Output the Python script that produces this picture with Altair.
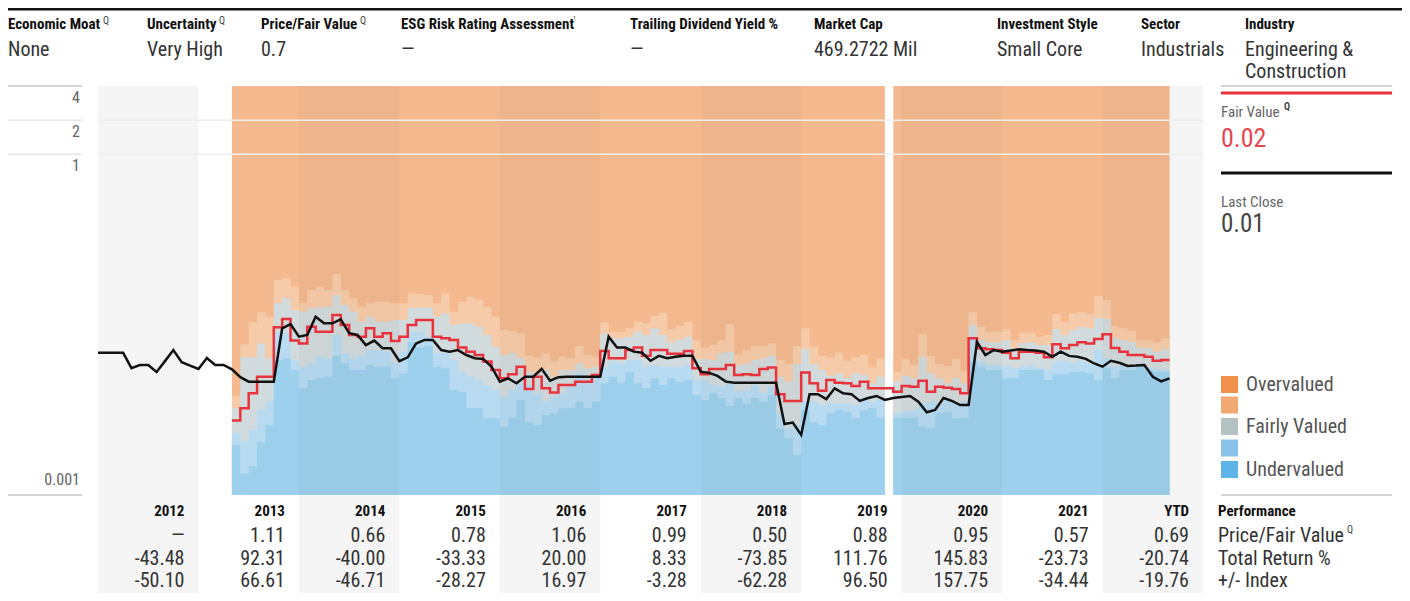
import altair as alt
import pandas as pd

# ---------------- data ----------------
HEADER_LABELS = ["Economic Moat", "Uncertainty", "Price/Fair Value", "ESG Risk Rating Assessment",
                 "Trailing Dividend Yield %", "Market Cap", "Investment Style", "Sector", "Industry"]
HEADER_SUPS = ["Q", "Q", "Q", "1", "", "", "", "", ""]
HEADER_VALUES = ["None", "Very High", "0.7", "\u2014", "\u2014", "469.2722 Mil", "Small Core",
                 "Industrials", "Engineering &"]
HEADER_VALUES_2 = ["", "", "", "", "", "", "", "", "Construction"]

# monthly last price, Jan 2012 .. Sep 2022
PRICE = [0.0179, 0.0179, 0.0179, 0.0179, 0.0131, 0.01396, 0.01396, 0.0121, 0.0151, 0.0189,
         0.0148, 0.0138, 0.0129, 0.0161, 0.01396, 0.01396, 0.0128, 0.0109, 0.00996, 0.00996,
         0.00996, 0.00996, 0.0294, 0.0320, 0.0248, 0.0257, 0.0372, 0.0325, 0.0325, 0.0353,
         0.0266, 0.0257, 0.0209, 0.0229, 0.0196, 0.0196, 0.0151, 0.0163, 0.0216, 0.0232,
         0.0232, 0.0189, 0.0183, 0.0189, 0.0171, 0.0160, 0.0158, 0.0135, 0.00996, 0.01066,
         0.00964, 0.0110, 0.0110, 0.0129, 0.01015, 0.0109, 0.0110, 0.0110, 0.0110, 0.0110,
         0.0110, 0.0248, 0.0199, 0.0199, 0.0183, 0.0179, 0.0152, 0.0168, 0.0160, 0.0165,
         0.0168, 0.0168, 0.0122, 0.0119, 0.0112, 0.00996, 0.00976, 0.00976, 0.00976, 0.00976,
         0.00976, 0.00976, 0.00422, 0.00435, 0.00338, 0.00773, 0.00773, 0.00700, 0.00870, 0.00786,
         0.00773, 0.00674, 0.00714, 0.00745, 0.00687, 0.00714, 0.00728, 0.00745, 0.00664, 0.00536,
         0.00561, 0.00714, 0.00674, 0.00620, 0.00620, 0.0222, 0.0171, 0.0189, 0.0183, 0.0187,
         0.0192, 0.0189, 0.0187, 0.0183, 0.0165, 0.0183, 0.0168, 0.0165, 0.0158, 0.0144,
         0.0135, 0.0152, 0.0146, 0.0137, 0.0138, 0.01396, 0.0110, 0.0100, 0.01066]

# valuation band boundaries, May 2013 .. Aug 2022 (Nov 2019 missing)
B1 = [0.00276, 0.00155, 0.00180, 0.00295, 0.00414, 0.01545, 0.0160, 0.0126, 0.00870, 0.0103,
      0.01066, 0.0110, 0.0168, 0.0144, 0.0126, 0.0126, 0.01396, 0.0135, 0.0135, 0.01066,
      0.0118, 0.0222, 0.0199, 0.0205, 0.0135, 0.0131, 0.00841, 0.00813, 0.00585, 0.00585,
      0.00474, 0.00474, 0.00399, 0.00478, 0.00687, 0.00438, 0.00414, 0.00507, 0.00524, 0.00580,
      0.00585, 0.00664, 0.00585, 0.00664, 0.00964, 0.0110, 0.00964, 0.0122, 0.00964, 0.00870,
      0.01066, 0.00930, 0.01066, 0.00996, 0.0103, 0.00760, 0.00687, 0.00786, 0.00714, 0.00608,
      0.00714, 0.00639, 0.00714, 0.00664, 0.00760, 0.00386, 0.00316, 0.00225, 0.00561, 0.00438,
      0.00414, 0.00524, 0.00561, 0.00541, 0.00478, 0.00561, 0.00580, 0.00478, None, 0.00478,
      0.00474, 0.00478, 0.00399, 0.00386, 0.00524, 0.00541, 0.00474, 0.00478, 0.0150, 0.0135,
      0.0126, 0.0126, 0.01066, 0.01066, 0.0126, 0.0126, 0.0126, 0.0103, 0.0116, 0.0116,
      0.0122, 0.0122, 0.0118, 0.0103, 0.0131, 0.01066, 0.0126, 0.0126, 0.0135, 0.0126,
      0.0122, 0.0122]
B2 = [0.00350, 0.00295, 0.00374, 0.00561, 0.00664, 0.0274, 0.0266, 0.01545, 0.0135, 0.0144,
      0.0165, 0.0160, 0.0257, 0.0177, 0.0160, 0.0171, 0.0189, 0.0189, 0.0183, 0.0144,
      0.0183, 0.0274, 0.0274, 0.0248, 0.0177, 0.0177, 0.01545, 0.0122, 0.0110, 0.0103,
      0.00930, 0.00841, 0.00733, 0.00841, 0.00964, 0.00930, 0.00786, 0.00664, 0.00733, 0.00786,
      0.00898, 0.0118, 0.0103, 0.0110, 0.0135, 0.0150, 0.0144, 0.01545, 0.01545, 0.0135,
      0.01396, 0.0135, 0.0135, 0.0135, 0.01396, 0.0103, 0.0103, 0.00930, 0.00898, 0.00964,
      0.00813, 0.00841, 0.00930, 0.00786, 0.00898, 0.00524, 0.00386, 0.00414, 0.00664, 0.00664,
      0.00620, 0.00639, 0.00639, 0.00639, 0.00620, 0.00714, 0.00664, 0.00687, None, 0.00524,
      0.00541, 0.00561, 0.00639, 0.00664, 0.00639, 0.00687, 0.00639, 0.00664, 0.0240, 0.0150,
      0.01396, 0.01396, 0.0135, 0.0131, 0.0135, 0.01396, 0.0131, 0.0126, 0.0150, 0.0150,
      0.0144, 0.0150, 0.0144, 0.0189, 0.0160, 0.0135, 0.01396, 0.0135, 0.0144, 0.0133,
      0.0129, 0.0126]
B3 = [0.00580, 0.0163, 0.0163, 0.0216, 0.0160, 0.0488, 0.0540, 0.0426, 0.0411, 0.0441,
      0.0449, 0.0455, 0.0577, 0.0471, 0.0411, 0.0336, 0.0372, 0.0336, 0.0336, 0.0348,
      0.0348, 0.0441, 0.0449, 0.0449, 0.0372, 0.0397, 0.0314, 0.0325, 0.0325, 0.0303,
      0.0257, 0.0202, 0.0171, 0.0177, 0.0160, 0.0122, 0.0118, 0.0126, 0.0110, 0.0126,
      0.0126, 0.0144, 0.0131, 0.0135, 0.0266, 0.0240, 0.0240, 0.0248, 0.0274, 0.0257,
      0.0294, 0.0257, 0.0222, 0.0234, 0.0248, 0.0158, 0.0158, 0.01545, 0.0177, 0.0183,
      0.01396, 0.0144, 0.01545, 0.0160, 0.0168, 0.0110, 0.00996, 0.0142, 0.0192, 0.0142,
      0.0126, 0.0112, 0.0118, 0.01066, 0.0118, 0.0114, 0.00964, 0.0110, None, 0.00996,
      0.0112, 0.01066, 0.0163, 0.0118, 0.01066, 0.00964, 0.01066, 0.00964, 0.0314, 0.0232,
      0.0222, 0.0222, 0.0232, 0.0196, 0.0218, 0.0222, 0.0209, 0.0209, 0.0288, 0.0257,
      0.0284, 0.0303, 0.0294, 0.0364, 0.0357, 0.0240, 0.0232, 0.0222, 0.0199, 0.0196,
      0.0183, 0.0193]
B4 = [0.00745, 0.0213, 0.0336, 0.0406, 0.0372, 0.0783, 0.0810, 0.0683, 0.0488, 0.0639,
      0.0683, 0.0639, 0.0884, 0.0639, 0.0540, 0.0455, 0.0488, 0.0504, 0.0504, 0.0488,
      0.0488, 0.0597, 0.0590, 0.0577, 0.0488, 0.0597, 0.0411, 0.0504, 0.0557, 0.0522,
      0.0455, 0.0372, 0.0284, 0.0278, 0.0266, 0.0168, 0.0163, 0.0177, 0.0150, 0.0165,
      0.0160, 0.0205, 0.0171, 0.0165, 0.0330, 0.0274, 0.0274, 0.0294, 0.0336, 0.0325,
      0.0377, 0.0402, 0.0288, 0.0308, 0.0336, 0.0229, 0.0199, 0.0209, 0.0229, 0.0320,
      0.0171, 0.0189, 0.0205, 0.0205, 0.0216, 0.01545, 0.0144, 0.0205, 0.0294, 0.0202,
      0.0168, 0.0163, 0.0179, 0.0152, 0.0163, 0.0171, 0.0133, 0.0159, None, 0.0122,
      0.0158, 0.01396, 0.0261, 0.0168, 0.0142, 0.0137, 0.0158, 0.0124, 0.0406, 0.0303,
      0.0274, 0.0274, 0.0288, 0.0232, 0.0266, 0.0269, 0.0248, 0.0257, 0.0393, 0.0336,
      0.0397, 0.0406, 0.0393, 0.0565, 0.0522, 0.0308, 0.0294, 0.0280, 0.0232, 0.0232,
      0.0222, 0.0240]
# fair value, May 2013 .. Aug 2022
FAIR_VALUE = [0.00452, 0.00580, 0.00786, 0.0110, 0.0110, 0.0300, 0.0355, 0.0229, 0.0216, 0.0303,
              0.0274, 0.0274, 0.0385, 0.0314, 0.0257, 0.0248, 0.0294, 0.0248, 0.0266, 0.0227,
              0.0248, 0.0314, 0.0348, 0.0348, 0.0248, 0.0240, 0.0232, 0.0199, 0.0183, 0.0171,
              0.0150, 0.0126, 0.01066, 0.0116, 0.0135, 0.00858, 0.0110, 0.00870, 0.00798, 0.00930,
              0.00930, 0.00996, 0.00996, 0.0114, 0.0185, 0.0160, 0.0160, 0.0189, 0.0199, 0.0168,
              0.0189, 0.0189, 0.0175, 0.0175, 0.0185, 0.0131, 0.0116, 0.0129, 0.0129, 0.01396,
              0.0114, 0.0116, 0.0114, 0.0129, 0.0133, 0.00773, 0.00674, 0.00674, 0.0120, 0.00964,
              0.00830, 0.0103, 0.00976, 0.00964, 0.00912, 0.00996, 0.00870, 0.00870, 0.00870, 0.00813,
              0.00912, 0.00898, 0.01015, 0.00813, 0.00898, 0.00880, 0.00858, 0.00786, 0.0240, 0.0196,
              0.0192, 0.0189, 0.0179, 0.0160, 0.0183, 0.0183, 0.0179, 0.0163, 0.0213, 0.0196,
              0.0209, 0.0222, 0.0216, 0.0237, 0.0261, 0.0197, 0.0183, 0.0171, 0.0171, 0.0165,
              0.0152, 0.01545]

YEARS = ["2012", "2013", "2014", "2015", "2016", "2017", "2018", "2019", "2020", "2021", "YTD"]
PFV = ["\u2014", "1.11", "0.66", "0.78", "1.06", "0.99", "0.50", "0.88", "0.95", "0.57", "0.69"]
TOTAL_RETURN = ["-43.48", "92.31", "-40.00", "-33.33", "20.00", "8.33", "-73.85", "111.76",
                "145.83", "-23.73", "-20.74"]
PLUS_MINUS = ["-50.10", "66.61", "-46.71", "-28.27", "16.97", "-3.28", "-62.28", "96.50",
              "157.75", "-34.44", "-19.76"]
ROW_LABELS = ["Performance", "Price/Fair Value", "Total Return %", "+/- Index"]
Y_TICKS = [4, 2, 1]
Y_BOTTOM = [0.001]
FAIR_VALUE_NOW = "0.02"
LAST_CLOSE_NOW = "0.01"
BAND_NAMES = ["Overvalued", "", "Fairly Valued", "", "Undervalued"]

assert len(PRICE) == 129
for arr in (B1, B2, B3, B4, FAIR_VALUE):
    assert len(arr) == 112

# ---------------- layout / style ----------------
FONT = "Noto Sans ExtraCondensed, Noto Sans Condensed, Roboto Condensed, Roboto, sans-serif"
W, H = 1394, 585
PX0, PX1 = 90, 1195          # plot area x (chart px)
PY0, PY1 = 78, 487           # plot area y (chart px)
LEG_X0, LEG_X1 = 1213, 1384
SWATCH = ["#f0914b", "#f2a873", "#b4c2c4", "#8ac4ea", "#5eb4e6"]
BAND_FILL = {"top": "#f4b98f", "b4": "#f6cba9", "b3": "#d1dadc", "b2": "#b8dbf1", "b1": "#9dd0ed"}
RED = "#e8333c"

X = alt.Scale(domain=[0, 132], range=[PX0, PX1], nice=False, zero=False)
Y = alt.Scale(type="log", domain=[0.001, 4], range=[PY1, PY0], nice=False)
ONE = pd.DataFrame({"_": [0]})


def month_index(periods):
    return [(p.year - 2012) * 12 + p.month - 1 for p in periods]


def T(text, x, y, size=14, color="#333", weight="normal", align="left", baseline="middle"):
    return alt.Chart(ONE).mark_text(text=text, fontSize=size, color=color, fontWeight=weight,
                                    align=align, baseline=baseline, font=FONT).encode(
        x=alt.value(x), y=alt.value(y))


def hrule(y, x0, x1, color, width):
    return alt.Chart(ONE).mark_rule(color=color, strokeWidth=width).encode(
        x=alt.value(x0), x2=alt.value(x1), y=alt.value(y))


layers = []

# year column backgrounds
cols = pd.DataFrame({"year": YEARS, "x0": [12 * i for i in range(len(YEARS))],
                     "x1": [12 * (i + 1) for i in range(len(YEARS))]})
shaded = cols.iloc[::2]
layers.append(alt.Chart(shaded).mark_rect(color="#f5f5f5").encode(
    x=alt.X("x0:Q", scale=X, axis=None), x2="x1:Q", y=alt.value(PY0), y2=alt.value(H)))

# valuation bands as nested step areas
bm = pd.period_range("2013-05", "2022-08", freq="M")
band = pd.DataFrame({"m": month_index(bm), "b1": B1, "b2": B2, "b3": B3, "b4": B4}).dropna()
band["seg"] = (band["m"] > 94).astype(int)
parts = []
for seg, g in band.groupby("seg"):
    end = g.iloc[[-1]].copy()
    end["m"] = end["m"] + 1
    parts.append(pd.concat([g, end]))
area_df = pd.concat(parts).astype(float)
area_df["top"] = 4.0
area_df["floor"] = 0.001
for key in ["top", "b4", "b3", "b2", "b1"]:
    layers.append(alt.Chart(area_df).mark_area(interpolate="step-after", color=BAND_FILL[key]).encode(
        x=alt.X("m:Q", scale=X, axis=None),
        y=alt.Y(f"{key}:Q", scale=Y, axis=None, stack=None),
        y2="floor:Q", detail="seg:N"))

# subtle tint where shaded year columns cross the bands
tint = []
for _, r in shaded.iterrows():
    a, b = max(r.x0, 16), min(r.x1, 128)
    if a < b:
        tint.append({"x0": a, "x1": b})
layers.append(alt.Chart(pd.DataFrame(tint)).mark_rect(color="#000000", opacity=0.025).encode(
    x=alt.X("x0:Q", scale=X, axis=None), x2="x1:Q", y=alt.value(PY0), y2=alt.value(PY1)))

# grid lines
grid = pd.DataFrame({"v": [2, 1]})
layers.append(alt.Chart(grid).mark_rule(color="#eeeeee", strokeWidth=1.5).encode(
    y=alt.Y("v:Q", scale=Y, axis=None), x=alt.value(PX0), x2=alt.value(PX1)))
layers.append(alt.Chart(grid).mark_rule(color="#e6e6e6", strokeWidth=1.5).encode(
    y=alt.Y("v:Q", scale=Y, axis=None), x=alt.value(0), x2=alt.value(74)))
edges = pd.DataFrame({"v": [4, 0.001]})
for x0, x1 in [(0, 74), (LEG_X0, LEG_X1)]:
    layers.append(alt.Chart(edges).mark_rule(color="#c4c4c4", strokeWidth=1.5).encode(
        y=alt.Y("v:Q", scale=Y, axis=None), x=alt.value(x0), x2=alt.value(x1)))

# fair value step line
fv = pd.DataFrame({"m": month_index(bm), "fv": FAIR_VALUE})
fv = pd.concat([fv, pd.DataFrame({"m": [fv["m"].iloc[-1] + 1], "fv": [fv["fv"].iloc[-1]]})])
layers.append(alt.Chart(fv).mark_line(interpolate="step-after", color=RED, strokeWidth=2.5).encode(
    x=alt.X("m:Q", scale=X, axis=None), y=alt.Y("fv:Q", scale=Y, axis=None)))

# price line
pm = pd.period_range("2012-01", "2022-09", freq="M")
price = pd.DataFrame({"m": month_index(pm), "price": PRICE})
layers.append(alt.Chart(price).mark_line(color="#111111", strokeWidth=2.5).encode(
    x=alt.X("m:Q", scale=X, axis=None), y=alt.Y("price:Q", scale=Y, axis=None)))

# y-axis labels
layers.append(alt.Chart(pd.DataFrame({"v": Y_TICKS, "t": [str(v) for v in Y_TICKS]})).mark_text(
    align="right", baseline="top", dy=4, fontSize=16, color="#666", font=FONT).encode(
    x=alt.value(72), y=alt.Y("v:Q", scale=Y, axis=None), text="t:N"))
layers.append(alt.Chart(pd.DataFrame({"v": Y_BOTTOM, "t": ["0.001"]})).mark_text(
    align="right", baseline="alphabetic", dy=-10, fontSize=16, color="#666", font=FONT).encode(
    x=alt.value(72), y=alt.Y("v:Q", scale=Y, axis=None), text="t:N"))

# header
layers.append(hrule(1, 0, W, "#111111", 3))
HX = [0, 139, 253, 393, 622, 806, 989, 1133, 1237]
SUPX = [95, 211, 352, 565, 0, 0, 0, 0, 0]
for i, lab in enumerate(HEADER_LABELS):
    layers.append(T(lab, HX[i], 16, size=15, color="#111", weight="bold"))
    layers.append(T(HEADER_VALUES[i], HX[i], 42, size=20, color="#333"))
    if HEADER_VALUES_2[i]:
        layers.append(T(HEADER_VALUES_2[i], HX[i], 64, size=20, color="#333"))
    if HEADER_SUPS[i]:
        layers.append(T(HEADER_SUPS[i], SUPX[i], 13 if HEADER_SUPS[i] == "Q" else 10,
                        size=10 if HEADER_SUPS[i] == "Q" else 6, color="#444"))

# legend panel
layers.append(hrule(85, LEG_X0, LEG_X1, RED, 3))
layers.append(T("Fair Value", LEG_X0, 104, size=15, color="#666"))
layers.append(T("Q", 1276, 99, size=10, color="#444", weight="bold"))
layers.append(T(FAIR_VALUE_NOW, LEG_X0, 131, size=26, color="#e8464f"))
layers.append(hrule(165, LEG_X0, LEG_X1, "#111111", 3))
layers.append(T("Last Close", LEG_X0, 194, size=15, color="#666"))
layers.append(T(LAST_CLOSE_NOW, LEG_X0, 216, size=25, color="#444"))
SW_Y = [376.5, 397, 418.5, 440, 461.5]
for i, name in enumerate(BAND_NAMES):
    layers.append(alt.Chart(ONE).mark_rect(color=SWATCH[i]).encode(
        x=alt.value(LEG_X0), x2=alt.value(LEG_X0 + 17),
        y=alt.value(SW_Y[i] - 8.5), y2=alt.value(SW_Y[i] + 8.5)))
    if name:
        layers.append(T(name, 1238, SW_Y[i], size=20, color="#555"))

# performance table
ROW_Y = [503, 528, 551, 573]
tab = pd.DataFrame({"xe": [12 * (i + 1) for i in range(len(YEARS))], "year": YEARS,
                    "pfv": PFV, "tr": TOTAL_RETURN, "pm": PLUS_MINUS})
for field, ry, size, weight, color in [("year", ROW_Y[0], 15, "bold", "#111"),
                                       ("pfv", ROW_Y[1], 20, "normal", "#333"),
                                       ("tr", ROW_Y[2], 20, "normal", "#333"),
                                       ("pm", ROW_Y[3], 20, "normal", "#333")]:
    layers.append(alt.Chart(tab).mark_text(align="right", baseline="middle", dx=-14, fontSize=size,
                                           fontWeight=weight, color=color, font=FONT).encode(
        x=alt.X("xe:Q", scale=X, axis=None), y=alt.value(ry), text=f"{field}:N"))
layers.append(T(ROW_LABELS[0], 1210, ROW_Y[0], size=15, color="#111", weight="bold"))
layers.append(T(ROW_LABELS[1], 1210, ROW_Y[1], size=20, color="#333"))
layers.append(T("Q", 1339, ROW_Y[1] - 6, size=10, color="#444"))
layers.append(T(ROW_LABELS[2], 1210, ROW_Y[2], size=20, color="#333"))
layers.append(T(ROW_LABELS[3], 1210, ROW_Y[3], size=20, color="#333"))

chart = alt.layer(*layers).properties(
    width=W, height=H, padding=0, autosize=alt.AutoSizeParams(type="none")
).configure_view(stroke=None)

chart.save("out.html", embed_options={"renderer": "svg", "actions": False})
